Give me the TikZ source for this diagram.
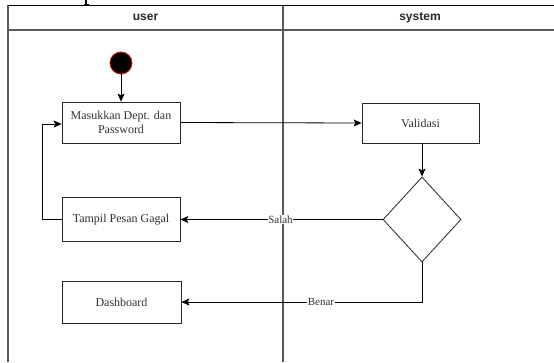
\documentclass[tikz,border=0pt]{standalone}
\usepackage{fontspec}
\setmainfont{Liberation Serif}
\newfontfamily\lanefont{Liberation Sans}
\usetikzlibrary{arrows.meta,shapes.geometric}
\begin{document}
\begin{tikzpicture}[x=1pt,y=-1pt,
  lane/.style={draw=black!65,line width=1.2pt},
  lanehead/.style={font=\lanefont\bfseries\fontsize{12}{14}\selectfont,text=black!85},
  act/.style={draw=black!85,line width=0.8pt,fill=white,font=\fontsize{12}{13.5}\selectfont,
    align=center,inner sep=0pt,text=black!80},
  decision/.style={draw=black!85,line width=0.8pt,fill=white,diamond,aspect=0.92,
    minimum width=78pt,minimum height=85pt,inner sep=0pt},
  flow/.style={draw=black,line width=0.8pt,-{Stealth[length=8pt,width=7pt,inset=1.8pt]}},
  edgelabel/.style={fill=white,inner sep=0.5pt,font=\fontsize{11}{12}\selectfont,text=black!80}]
\useasboundingbox (0,0) rectangle (554,362);
\fill[white] (0,0) rectangle (554,362);

% fragment of a line above the frame
\draw[line width=1.3pt] (86,0) -- (86,4.5);
\draw[line width=1pt] (83.5,4.2) -- (88.5,4.2);

% swimlane frame
\draw[lane] (8,362) -- (8,30) -- (558,30);
\draw[lane] (283,5) -- (283,362);
\draw[lane] (8,5) -- (8,30);
\draw[line width=0.9pt] (8,5) -- (558,5);
\node[lanehead] (hUser) at (145.5,17.5) {user};
\node[lanehead] (hSystem) at (420,17.5) {system};

% activity nodes
\node[circle,fill=black,draw=red!85!black,line width=0.8pt,minimum size=22pt,inner sep=0pt] (start) at (121,63) {};
\node[act,minimum width=118pt,minimum height=41pt] (masuk) at (121,122.5) {Masukkan Dept. dan\\Password};
\node[act,minimum width=117pt,minimum height=40pt] (valid) at (420.5,123) {Validasi};
\node[decision] (cek) at (422,219.5) {};
\node[act,minimum width=118pt,minimum height=44pt] (gagal) at (121,219.5) {Tampil Pesan Gagal};
\node[act,minimum width=119pt,minimum height=42pt] (dash) at (121.5,302) {Dashboard};

% control flow
\draw[flow] (start) -- (masuk);
\draw[flow] (masuk.east) -- (valid.west);
\draw[flow] (valid.south -| cek.north) -- (cek.north);
\draw[flow] (cek.west) -- node[edgelabel,pos=0.505] {Salah} (gagal.east);
\coordinate (benarTurn) at (cek.south |- dash.east);
\draw[flow] (cek.south) -- (benarTurn) -- node[edgelabel,pos=0.42] {Benar} (dash.east);
\coordinate (loopLow) at (42,219.5);
\coordinate (loopHigh) at (42,124);
\draw[flow] (gagal.west) -- (loopLow) -- (loopHigh) -- (masuk.west |- loopHigh);
\end{tikzpicture}
\end{document}
